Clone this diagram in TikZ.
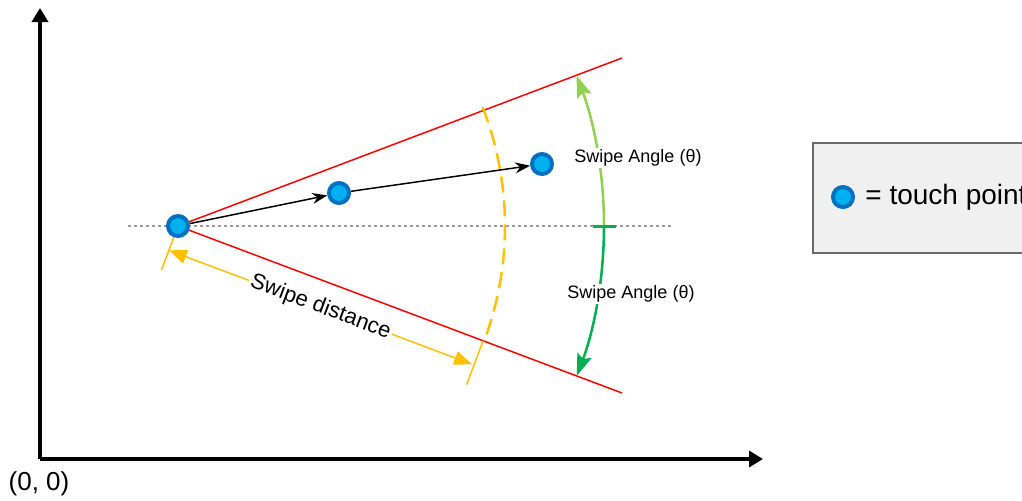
\documentclass[tikz,border=0pt]{standalone}
\usepackage{fontspec}
\setmainfont{Liberation Sans}
\usetikzlibrary{positioning,arrows.meta,calc}
\definecolor{ptcyan}{HTML}{00B0F0}
\definecolor{ptblue}{HTML}{0070C0}
\definecolor{dimyellow}{HTML}{FFC000}
\definecolor{anglelight}{HTML}{92D050}
\definecolor{angledark}{HTML}{00B050}
\definecolor{keyfill}{HTML}{F0F0F0}
\definecolor{keyline}{HTML}{6A6A6A}
\tikzset{
  figpoint/.style={circle, draw=ptblue, fill=ptcyan, line width=2pt,
    minimum size=10pt, inner sep=0pt},
  figaxis/.style={line width=2pt, -{Triangle[length=7pt, width=8pt]}},
  figray/.style={red, line width=0.75pt},
  figswipe/.style={-{Stealth[length=7.5pt, width=5.5pt]}, line width=0.75pt},
  figdim/.style={dimyellow, line width=0.75pt},
  figangle/.style={line width=1.25pt, -{Stealth[length=11pt, width=7.5pt, inset=2pt]}},
  figlabel/.style={fill=white, inner sep=1pt, font=\fontsize{9}{11}\selectfont},
}

\begin{document}
\begin{tikzpicture}[x=0.5pt, y=-0.5pt]
  \useasboundingbox (0,0) rectangle (1022,500);
  % axes
  \coordinate (orig) at (40,459);
  \draw[figaxis] (orig) -- (40,8);
  \draw[figaxis] (orig) -- (763,459);
  \node[font=\fontsize{13}{15}\selectfont] (origtext) at (39,484) {(0, 0)};
  % swipe start and reference line
  \coordinate (O) at (178,226);
  \draw[gray!80, line width=0.8pt, dash pattern=on 1.5pt off 1.5pt] (128,226) -- (673,226);
  \draw[figray] (O) -- (622,58);
  \draw[figray] (O) -- (622,393);
  % swipe distance
  \draw[dimyellow, line width=1.25pt, dash pattern=on 8pt off 4pt]
    ($(O)+(-21.3:327)$) arc[start angle=-21.3, end angle=20.6, radius=327];
  \draw[figdim] (O) -- ($(O)+(110.6:47)$);
  \draw[figdim] ($(O)+(20.6:326)$) -- ($(O)+(20.6:326)+(110.6:47)$);
  \coordinate (dimS) at ($(O)+(110.6:26)$);
  \coordinate (dimE) at ($(O)+(20.6:324)+(110.6:26)$);
  \draw[figdim, {Triangle[length=9pt, width=7pt]}-{Triangle[length=9pt, width=7pt]}] (dimS) --
    node[sloped, fill=white, text=black, inner sep=1pt, font=\fontsize{11}{13}\selectfont] (dimtext) {Swipe distance} (dimE);
  % swipe angle
  \draw[figangle, anglelight] ($(O)+(0:426)$) arc[start angle=0, end angle=-20.7, radius=426];
  \draw[figangle, angledark] ($(O)+(0:426)$) arc[start angle=0, end angle=20.6, radius=426];
  \draw[angledark, line width=1.5pt] (593,226) -- (616,226);
  \node[figlabel] (angup) at (638,158) {Swipe Angle (θ)};
  \node[figlabel] (angdown) at (631,294) {Swipe Angle (θ)};
  % touch points
  \node[figpoint] (ptA) at (O) {};
  \node[figpoint] (ptB) at (339,193) {};
  \node[figpoint] (ptC) at (542,164) {};
  \draw[figswipe] (ptA) -- (ptB);
  \draw[figswipe] (ptB) -- (ptC);
  % key
  \node[draw=keyline, fill=keyfill, line width=1pt, minimum width=115pt, minimum height=55pt,
    anchor=north west] (legend) at (812,142) {};
  \node[figpoint] (keypt) at (843,197) {};
  \node[anchor=west, inner sep=0pt, font=\fontsize{14}{16}\selectfont] (keytext) at (865,197) {= touch point};
\end{tikzpicture}
\end{document}
